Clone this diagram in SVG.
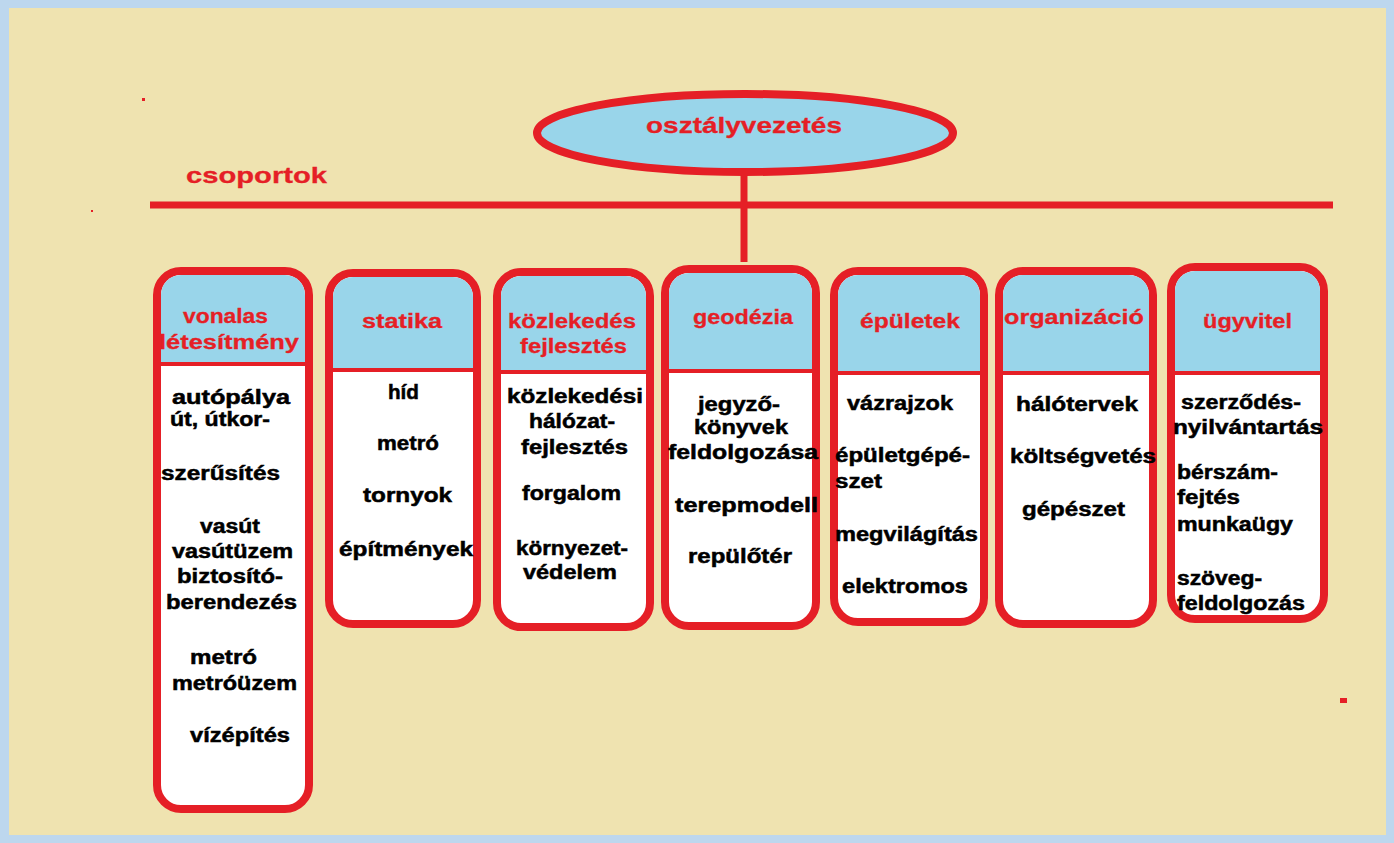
<svg xmlns="http://www.w3.org/2000/svg" width="1394" height="843" viewBox="0 0 1394 843">
<style>
.box{fill:#ffffff;stroke:#e51f26;stroke-width:8}
.hdr{fill:#99d5ea}
.div{stroke:#e51f26;stroke-width:4}
.line{stroke:#e51f26;stroke-width:7;fill:none}
text{font-family:"Liberation Sans",Arial,sans-serif;font-weight:bold}
.h{fill:#e51f26;stroke:#e51f26;stroke-width:0.3;font-size:20px}
.b{fill:#000000;stroke:#000000;stroke-width:0.5;font-size:20px}
.t{fill:#e51f26;stroke:#e51f26;stroke-width:0.3;font-size:22px}
</style>
<rect x="0" y="0" width="1394" height="843" fill="#bdd7ee"/>
<rect x="9" y="8" width="1377" height="827" fill="#efe3b0"/>
<rect x="142" y="98" width="3" height="3" fill="#e51f26"/>
<rect x="91" y="210" width="2" height="2" fill="#e51f26"/>
<rect x="1340" y="698" width="7" height="5" fill="#e51f26"/>

<g id="connectors">
<line class="line" x1="150" y1="205" x2="1333" y2="205"/>
<line class="line" x1="744" y1="170" x2="744" y2="262"/>
</g>

<g id="title">
<text class="t" x="186" y="183" textLength="141" lengthAdjust="spacingAndGlyphs">csoportok</text>
</g>

<g id="root">
<ellipse cx="745" cy="133" rx="208" ry="39" fill="#99d5ea" stroke="#e51f26" stroke-width="8"/>
<text class="t" x="646" y="133" textLength="196" lengthAdjust="spacingAndGlyphs">osztályvezetés</text>
</g>

<g id="vonalas">
<rect class="box" x="157" y="271" width="152" height="538" rx="24"/>
<path class="hdr" d="M161,364 V295 A20,20 0 0 1 181,275 H285 A20,20 0 0 1 305,295 V364 Z"/>
<line class="div" x1="161" y1="364" x2="305" y2="364"/>
<text class="h" x="183" y="323" textLength="85" lengthAdjust="spacingAndGlyphs">vonalas</text>
<text class="h" x="159" y="349" textLength="140" lengthAdjust="spacingAndGlyphs">létesítmény</text>
<text class="b" x="172" y="404" textLength="118" lengthAdjust="spacingAndGlyphs">autópálya</text>
<text class="b" x="170" y="426" textLength="100" lengthAdjust="spacingAndGlyphs">út, útkor-</text>
<text class="b" x="161" y="480" textLength="119" lengthAdjust="spacingAndGlyphs">szerűsítés</text>
<text class="b" x="200" y="533" textLength="60" lengthAdjust="spacingAndGlyphs">vasút</text>
<text class="b" x="172" y="558" textLength="121" lengthAdjust="spacingAndGlyphs">vasútüzem</text>
<text class="b" x="177" y="583" textLength="106" lengthAdjust="spacingAndGlyphs">biztosító-</text>
<text class="b" x="166" y="609" textLength="131" lengthAdjust="spacingAndGlyphs">berendezés</text>
<text class="b" x="190" y="664" textLength="67" lengthAdjust="spacingAndGlyphs">metró</text>
<text class="b" x="172" y="690" textLength="125" lengthAdjust="spacingAndGlyphs">metróüzem</text>
<text class="b" x="190" y="742" textLength="100" lengthAdjust="spacingAndGlyphs">vízépítés</text>
</g>

<g id="statika">
<rect class="box" x="329" y="273" width="148" height="351" rx="24"/>
<path class="hdr" d="M333,370 V297 A20,20 0 0 1 353,277 H453 A20,20 0 0 1 473,297 V370 Z"/>
<line class="div" x1="333" y1="370" x2="473" y2="370"/>
<text class="h" x="362" y="328" textLength="80" lengthAdjust="spacingAndGlyphs">statika</text>
<text class="b" x="388" y="399" textLength="31" lengthAdjust="spacingAndGlyphs">híd</text>
<text class="b" x="377" y="450" textLength="62" lengthAdjust="spacingAndGlyphs">metró</text>
<text class="b" x="363" y="502" textLength="89" lengthAdjust="spacingAndGlyphs">tornyok</text>
<text class="b" x="339" y="556" textLength="134" lengthAdjust="spacingAndGlyphs">építmények</text>
</g>

<g id="kozlekedes">
<rect class="box" x="497" y="272" width="153" height="355" rx="24"/>
<path class="hdr" d="M501,372 V296 A20,20 0 0 1 521,276 H626 A20,20 0 0 1 646,296 V372 Z"/>
<line class="div" x1="501" y1="372" x2="646" y2="372"/>
<text class="h" x="508" y="328" textLength="128" lengthAdjust="spacingAndGlyphs">közlekedés</text>
<text class="h" x="520" y="353" textLength="107" lengthAdjust="spacingAndGlyphs">fejlesztés</text>
<text class="b" x="507" y="403" textLength="136" lengthAdjust="spacingAndGlyphs">közlekedési</text>
<text class="b" x="529" y="428" textLength="86" lengthAdjust="spacingAndGlyphs">hálózat-</text>
<text class="b" x="521" y="454" textLength="107" lengthAdjust="spacingAndGlyphs">fejlesztés</text>
<text class="b" x="522" y="500" textLength="99" lengthAdjust="spacingAndGlyphs">forgalom</text>
<text class="b" x="516" y="555" textLength="112" lengthAdjust="spacingAndGlyphs">környezet-</text>
<text class="b" x="523" y="579" textLength="94" lengthAdjust="spacingAndGlyphs">védelem</text>
</g>

<g id="geodezia">
<rect class="box" x="665" y="269" width="151" height="357" rx="24"/>
<path class="hdr" d="M669,371 V293 A20,20 0 0 1 689,273 H792 A20,20 0 0 1 812,293 V371 Z"/>
<line class="div" x1="669" y1="371" x2="812" y2="371"/>
<text class="h" x="693" y="324" textLength="100" lengthAdjust="spacingAndGlyphs">geodézia</text>
<text class="b" x="698" y="411" textLength="82" lengthAdjust="spacingAndGlyphs">jegyző-</text>
<text class="b" x="694" y="434" textLength="94" lengthAdjust="spacingAndGlyphs">könyvek</text>
<text class="b" x="668" y="459" textLength="150" lengthAdjust="spacingAndGlyphs">feldolgozása</text>
<text class="b" x="675" y="512" textLength="143" lengthAdjust="spacingAndGlyphs">terepmodell</text>
<text class="b" x="688" y="563" textLength="104" lengthAdjust="spacingAndGlyphs">repülőtér</text>
</g>

<g id="epuletek">
<rect class="box" x="834" y="271" width="150" height="351" rx="24"/>
<path class="hdr" d="M838,373 V295 A20,20 0 0 1 858,275 H960 A20,20 0 0 1 980,295 V373 Z"/>
<line class="div" x1="838" y1="373" x2="980" y2="373"/>
<text class="h" x="860" y="328" textLength="100" lengthAdjust="spacingAndGlyphs">épületek</text>
<text class="b" x="847" y="410" textLength="106" lengthAdjust="spacingAndGlyphs">vázrajzok</text>
<text class="b" x="835" y="462" textLength="135" lengthAdjust="spacingAndGlyphs">épületgépé-</text>
<text class="b" x="835" y="488" textLength="47" lengthAdjust="spacingAndGlyphs">szet</text>
<text class="b" x="835" y="541" textLength="143" lengthAdjust="spacingAndGlyphs">megvilágítás</text>
<text class="b" x="842" y="593" textLength="126" lengthAdjust="spacingAndGlyphs">elektromos</text>
</g>

<g id="organizacio">
<rect class="box" x="999" y="271" width="154" height="353" rx="24"/>
<path class="hdr" d="M1003,373 V295 A20,20 0 0 1 1023,275 H1129 A20,20 0 0 1 1149,295 V373 Z"/>
<line class="div" x1="1003" y1="373" x2="1149" y2="373"/>
<text class="h" x="1004" y="324" textLength="140" lengthAdjust="spacingAndGlyphs">organizáció</text>
<text class="b" x="1016" y="411" textLength="122" lengthAdjust="spacingAndGlyphs">hálótervek</text>
<text class="b" x="1010" y="463" textLength="146" lengthAdjust="spacingAndGlyphs">költségvetés</text>
<text class="b" x="1022" y="516" textLength="103" lengthAdjust="spacingAndGlyphs">gépészet</text>
</g>

<g id="ugyvitel">
<rect class="box" x="1171" y="267" width="153" height="352" rx="24"/>
<path class="hdr" d="M1175,373 V291 A20,20 0 0 1 1195,271 H1300 A20,20 0 0 1 1320,291 V373 Z"/>
<line class="div" x1="1175" y1="373" x2="1320" y2="373"/>
<text class="h" x="1203" y="328" textLength="89" lengthAdjust="spacingAndGlyphs">ügyvitel</text>
<text class="b" x="1181" y="409" textLength="120" lengthAdjust="spacingAndGlyphs">szerződés-</text>
<text class="b" x="1173" y="434" textLength="150" lengthAdjust="spacingAndGlyphs">nyilvántartás</text>
<text class="b" x="1177" y="479" textLength="101" lengthAdjust="spacingAndGlyphs">bérszám-</text>
<text class="b" x="1177" y="504" textLength="63" lengthAdjust="spacingAndGlyphs">fejtés</text>
<text class="b" x="1177" y="531" textLength="116" lengthAdjust="spacingAndGlyphs">munkaügy</text>
<text class="b" x="1177" y="585" textLength="85" lengthAdjust="spacingAndGlyphs">szöveg-</text>
<text class="b" x="1177" y="610" textLength="128" lengthAdjust="spacingAndGlyphs">feldolgozás</text>
</g>
</svg>
